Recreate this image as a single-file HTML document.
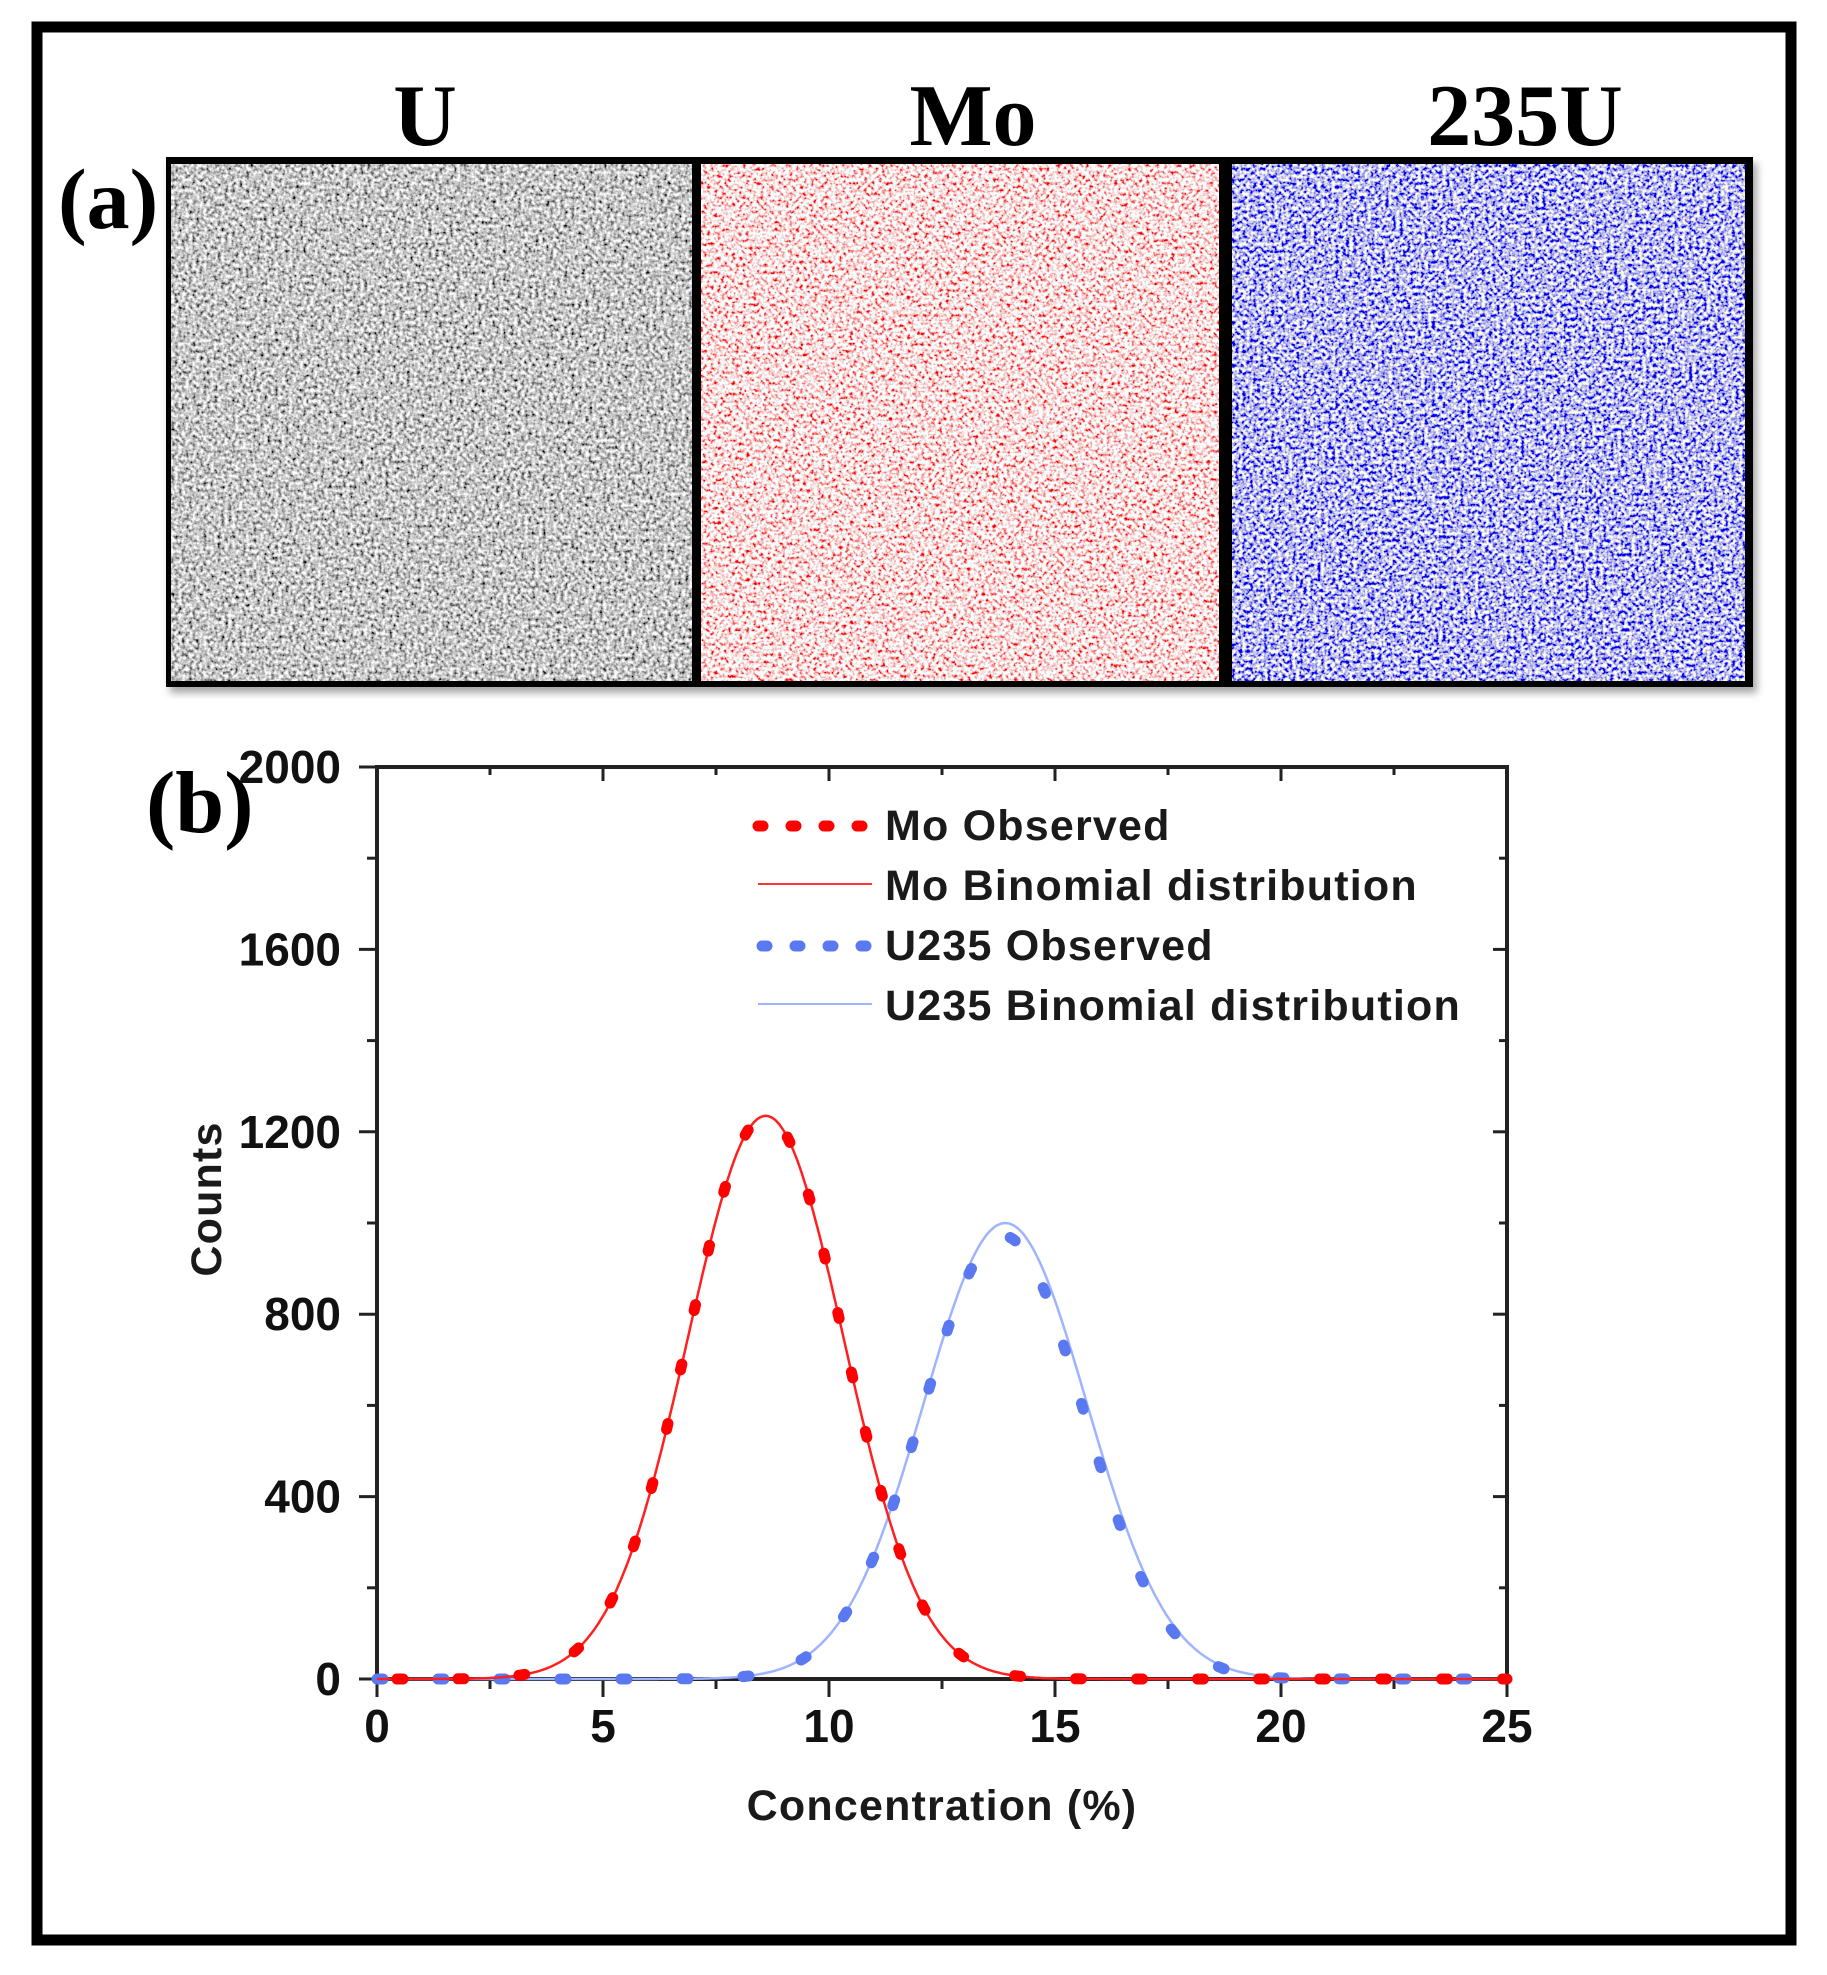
<!DOCTYPE html>
<html><head><meta charset="utf-8">
<style>
html,body{margin:0;padding:0;background:#fff;}
svg{display:block;}
.tk{font-family:"Liberation Sans",sans-serif;font-weight:bold;font-size:46px;fill:#111;}
.lg{font-family:"Liberation Sans",sans-serif;font-weight:bold;font-size:43px;fill:#1a1a1a;letter-spacing:1.2px;}
.tm{font-family:"Liberation Serif",serif;font-weight:bold;fill:#000;}
</style></head>
<body>
<svg id="s" width="1827" height="1975" viewBox="0 0 1827 1975" xmlns="http://www.w3.org/2000/svg">
<defs>
<filter id="fg" x="0" y="0" width="100%" height="100%">
<feTurbulence type="fractalNoise" baseFrequency="0.28" numOctaves="2" seed="3"/>
<feColorMatrix type="matrix" values="1.9 0 0 0 -0.38  1.9 0 0 0 -0.38  1.9 0 0 0 -0.38  0 0 0 0 1"/>
</filter>
<filter id="fr" x="0" y="0" width="100%" height="100%">
<feTurbulence type="fractalNoise" baseFrequency="0.28" numOctaves="2" seed="7"/>
<feColorMatrix type="matrix" values="0 0 0 0 0.93  3.2 0 0 0 -0.85  3.2 0 0 0 -0.85  0 0 0 0 1"/>
</filter>
<filter id="fb" x="0" y="0" width="100%" height="100%">
<feTurbulence type="fractalNoise" baseFrequency="0.28" numOctaves="2" seed="11"/>
<feColorMatrix type="matrix" values="3 0 0 0 -1.0  3 0 0 0 -1.0  0 0 0 0 0.85  0 0 0 0 1"/>
</filter>
<filter id="sh" x="-5%" y="-5%" width="110%" height="115%"><feDropShadow dx="4" dy="6" stdDeviation="4" flood-color="#000" flood-opacity="0.35"/></filter>
</defs>
<rect x="0" y="0" width="1827" height="1975" fill="#fff"/>
<rect x="37" y="27" width="1754" height="1913" fill="none" stroke="#000" stroke-width="11"/>

<text class="tm" x="425" y="145" font-size="88" text-anchor="middle">U</text>
<text class="tm" x="973" y="145" font-size="88" text-anchor="middle">Mo</text>
<text class="tm" x="1525" y="145" font-size="88" text-anchor="middle">235U</text>
<text class="tm" x="58" y="228" font-size="86">(a)</text>
<rect x="166" y="157" width="1587" height="530" fill="#000" filter="url(#sh)"/>
<rect x="171" y="164" width="521" height="517" fill="#999" filter="url(#fg)"/>
<rect x="701" y="164" width="518" height="517" fill="#f00" filter="url(#fr)"/>
<rect x="1232" y="164" width="513" height="517" fill="#00f" filter="url(#fb)"/>

<text class="tm" x="146" y="832" font-size="88">(b)</text>
<g id="axes" stroke="#222" stroke-width="4" fill="none">
<rect x="377" y="767" width="1130" height="912"/>
</g>
<g id="ticks" stroke="#222" stroke-width="3"></g>
<g id="labels"></g>
<text class="lg" x="0" y="0" transform="translate(221,1199) rotate(-90)" text-anchor="middle" font-size="42">Counts</text>
<text class="lg" x="942" y="1820" text-anchor="middle" font-size="42">Concentration (%)</text>

<line x1="758" y1="826" x2="872" y2="826" stroke="#f00" stroke-width="11" stroke-linecap="round" stroke-dasharray="5 28"/>
<text class="lg" x="885" y="840">Mo Observed</text>
<line x1="758" y1="884" x2="872" y2="884" stroke="#f33" stroke-width="2"/>
<text class="lg" x="885" y="900">Mo Binomial distribution</text>
<line x1="762" y1="946" x2="872" y2="946" stroke="#5a78f0" stroke-width="11" stroke-linecap="round" stroke-dasharray="5 28"/>
<text class="lg" x="885" y="960">U235 Observed</text>
<line x1="758" y1="1004" x2="872" y2="1004" stroke="#9fb4ff" stroke-width="2"/>
<text class="lg" x="885" y="1020">U235 Binomial distribution</text>

<g id="curves"></g>
</svg>
<script>
(function(){
var NS="http://www.w3.org/2000/svg";
var X0=377,X1=1507,Y0=1679,Y1=767;
function px(x){return X0+(X1-X0)*x/25;}
function py(y){return Y0-(Y0-Y1)*y/2000;}
function el(n,a,p){var e=document.createElementNS(NS,n);for(var k in a)e.setAttribute(k,a[k]);(p||document.getElementById('s')).appendChild(e);return e;}
var tk=document.getElementById('ticks'),lb=document.getElementById('labels');
for(var v=0;v<=2000;v+=200){
 var y=py(v),maj=(v%400==0);
 el('line',{x1:X0-(maj?18:10),y1:y,x2:X0,y2:y},tk);
 el('line',{x1:X1,y1:y,x2:X1-(maj?14:8),y2:y},tk);
 if(maj){var t=el('text',{x:341,y:y+16,'text-anchor':'end','class':'tk'},lb);t.textContent=v;}
}
for(var v=0;v<=25;v+=2.5){
 var x=px(v),maj=(v%5==0);
 el('line',{x1:x,y1:Y0,x2:x,y2:Y0+(maj?18:10)},tk);
 el('line',{x1:x,y1:Y1,x2:x,y2:Y1+(maj?14:8)},tk);
 if(maj){var t=el('text',{x:x,y:1742,'text-anchor':'middle','class':'tk'},lb);t.textContent=v;}
}
function path(m,s,a){var d="";for(var i=0;i<=500;i++){var x=25*i/500;var y=a*Math.exp(-(x-m)*(x-m)/(2*s*s));d+=(i?"L":"M")+px(x).toFixed(1)+" "+py(y).toFixed(1);}return d;}
var cg=document.getElementById('curves');
el('path',{d:path(13.9,1.8,1000),stroke:'#9fb4ff','stroke-width':2.5,fill:'none'},cg);
el('path',{d:path(13.85,1.78,972),stroke:'#5a78f0','stroke-width':11,fill:'none','stroke-linecap':'round','stroke-dasharray':'6 55'},cg);
el('path',{d:path(8.6,1.72,1235),stroke:'#ff2020','stroke-width':2.5,fill:'none'},cg);
el('path',{d:path(8.6,1.72,1235),stroke:'#f00','stroke-width':11,fill:'none','stroke-linecap':'round','stroke-dasharray':'6 55','stroke-dashoffset':'-20'},cg);
})();
</script>
</body></html>
